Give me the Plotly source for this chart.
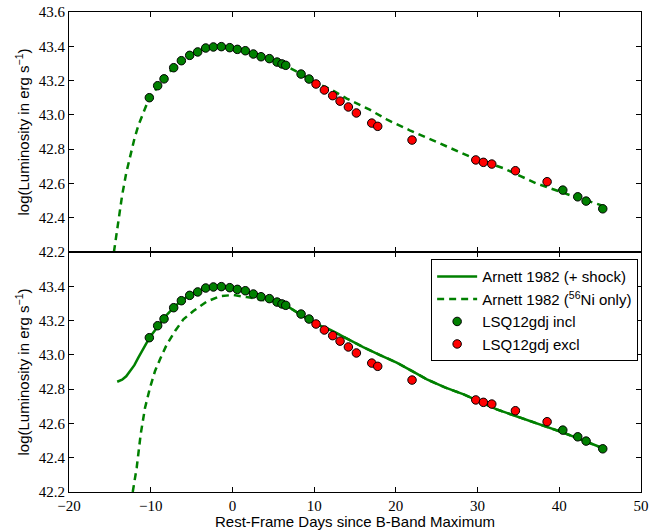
import plotly.graph_objects as go
from plotly.subplots import make_subplots

# LSQ12gdj data points (included in fit: green, excluded: red)
incl_days = [-10.17, -9.15, -8.37, -7.19, -6.25, -5.23, -4.25, -3.27, -2.33, -1.36,
             -0.33, 0.60, 1.58, 2.56, 3.50, 4.52, 5.46, 6.07, 6.52, 8.40, 9.38,
             40.43, 42.26, 43.28, 45.32]
incl_logL = [43.10, 43.17, 43.21, 43.275, 43.316, 43.347, 43.367, 43.39, 43.396, 43.398,
             43.392, 43.382, 43.374, 43.355, 43.339, 43.328, 43.308, 43.297, 43.289, 43.238, 43.209,
             42.561, 42.522, 42.497, 42.452]
excl_days = [10.23, 11.25, 12.27, 13.17, 14.19, 15.17, 17.05, 17.78, 21.98,
             29.78, 30.71, 31.74, 34.63, 38.51]
excl_logL = [43.18, 43.145, 43.112, 43.08, 43.046, 43.011, 42.952, 42.933, 42.853,
             42.737, 42.723, 42.713, 42.674, 42.61]

# Top panel: Arnett 1982 (56Ni only) fit
top_ni_days = [-14.5, -14.0, -13.5, -13.0, -12.5, -12.0, -11.5, -11.0, -10.5, -10.0,
               -9.0, -8.0, -7.0, -6.0, -5.0, -4.0, -3.0, -2.0, -1.0, 0.0, 1.0, 2.0,
               3.0, 4.0, 5.0, 6.0, 7.0, 8.0, 9.0, 10.0, 12.0, 14.0, 16.8, 19.0, 21.7,
               25.4, 29.1, 33.2, 37.2, 41.3, 45.3]
top_ni_logL = [42.20, 42.38, 42.53, 42.66, 42.77, 42.86, 42.94, 43.005, 43.06, 43.105,
               43.175, 43.235, 43.285, 43.325, 43.355, 43.375, 43.39, 43.398, 43.397, 43.39,
               43.38, 43.366, 43.35, 43.335, 43.318, 43.298, 43.275, 43.25, 43.22, 43.19,
               43.15, 43.095, 43.03, 42.97, 42.91, 42.834, 42.756, 42.688, 42.60, 42.532, 42.47]

# Bottom panel: Arnett 1982 (+ shock) fit
bot_shock_days = [-14.1, -13.5, -13.0, -12.5, -12.0, -11.5, -11.0, -10.5, -10.0, -9.0,
                  -8.0, -7.0, -6.0, -5.0, -4.0, -3.0, -2.0, -1.0, 0.0, 1.0, 2.0, 3.0,
                  4.0, 5.0, 6.0, 7.0, 8.0, 9.0, 10.0, 12.0, 14.0, 16.0, 18.0, 20.1, 22.0,
                  23.8, 26.0, 28.3, 32.35, 36.4, 40.5, 45.2]
bot_shock_logL = [42.843, 42.855, 42.875, 42.905, 42.94, 42.985, 43.03, 43.07, 43.11, 43.175,
                  43.235, 43.285, 43.325, 43.355, 43.375, 43.39, 43.397, 43.397, 43.39, 43.38,
                  43.366, 43.35, 43.335, 43.318, 43.298, 43.275, 43.245, 43.215, 43.185, 43.145,
                  43.095, 43.045, 43.0, 42.955, 42.905, 42.857, 42.81, 42.77, 42.682, 42.614,
                  42.546, 42.458]

# Bottom panel: Arnett 1982 (56Ni only) fit
bot_ni_days = [-12.2, -11.72, -11.23, -10.7, -10.09, -9.47, -8.86, -8.04, -7.02, -6.0,
               -4.78, -3.15, -1.52, 0.11, 1.75, 3.0, 4.0, 5.0, 6.0, 7.0, 8.0, 9.0, 10.0,
               12.0, 14.0, 16.0, 18.0, 20.1, 22.0, 23.8, 26.0, 28.3, 32.35, 36.4, 40.5, 45.2]
bot_ni_logL = [42.20, 42.34, 42.536, 42.69, 42.808, 42.906, 42.974, 43.06, 43.139, 43.207,
               43.256, 43.31, 43.343, 43.349, 43.337, 43.325, 43.318, 43.312, 43.298, 43.275,
               43.245, 43.215, 43.185, 43.145, 43.095, 43.045, 43.0, 42.955, 42.905, 42.857,
               42.81, 42.77, 42.682, 42.614, 42.546, 42.458]

x_ticks = [-20, -10, 0, 10, 20, 30, 40, 50]
y_ticks_top = [42.2, 42.4, 42.6, 42.8, 43.0, 43.2, 43.4, 43.6]
y_ticks_bot = [42.2, 42.4, 42.6, 42.8, 43.0, 43.2, 43.4]

GREEN = "#008000"
RED = "#ff0000"
DASH = "7px,5px"
MSIZE = 8.5

fig = make_subplots(rows=2, cols=1, shared_xaxes=True, vertical_spacing=0)

# top panel
fig.add_trace(go.Scatter(x=top_ni_days, y=top_ni_logL, mode="lines",
                         line=dict(color=GREEN, width=2.5, dash=DASH),
                         showlegend=False), row=1, col=1)
fig.add_trace(go.Scatter(x=incl_days, y=incl_logL, mode="markers",
                         marker=dict(color=GREEN, size=MSIZE, line=dict(color="black", width=1)),
                         showlegend=False), row=1, col=1)
fig.add_trace(go.Scatter(x=excl_days, y=excl_logL, mode="markers",
                         marker=dict(color=RED, size=MSIZE, line=dict(color="black", width=1)),
                         showlegend=False), row=1, col=1)

# bottom panel
fig.add_trace(go.Scatter(x=bot_shock_days, y=bot_shock_logL, mode="lines",
                         line=dict(color=GREEN, width=2.5),
                         name="Arnett 1982 (+ shock)"), row=2, col=1)
fig.add_trace(go.Scatter(x=bot_ni_days, y=bot_ni_logL, mode="lines",
                         line=dict(color=GREEN, width=2.5, dash=DASH),
                         name="Arnett 1982 (<sup>56</sup>Ni only)"), row=2, col=1)
fig.add_trace(go.Scatter(x=incl_days, y=incl_logL, mode="markers",
                         marker=dict(color=GREEN, size=MSIZE, line=dict(color="black", width=1)),
                         name="LSQ12gdj incl"), row=2, col=1)
fig.add_trace(go.Scatter(x=excl_days, y=excl_logL, mode="markers",
                         marker=dict(color=RED, size=MSIZE, line=dict(color="black", width=1)),
                         name="LSQ12gdj excl"), row=2, col=1)

tickfont = dict(family="Liberation Serif", size=15, color="black")
common_axis = dict(showline=True, linecolor="black", linewidth=1, mirror="allticks",
                   ticks="inside", ticklen=5, tickwidth=1, tickcolor="black",
                   showgrid=False, zeroline=False, tickfont=tickfont, automargin=False)

fig.update_xaxes(range=[-20, 50], tickvals=x_ticks, **common_axis)
fig.update_xaxes(showticklabels=False, row=1, col=1)
fig.update_xaxes(title=dict(text="Rest-Frame Days since B-Band Maximum",
                            font=dict(family="Liberation Sans", size=15, color="black"),
                            standoff=3), row=2, col=1)

ytitle = dict(text="log(Luminosity in erg s<sup>−1</sup>)",
              font=dict(family="Liberation Sans", size=15, color="black"), standoff=5)
fig.update_yaxes(range=[42.2, 43.6], tickvals=y_ticks_top, ticktext=[f"{v:.1f}" for v in y_ticks_top],
                 title=ytitle, row=1, col=1, **common_axis)
fig.update_yaxes(range=[42.2, 43.6], tickvals=y_ticks_bot, ticktext=[f"{v:.1f}" for v in y_ticks_bot],
                 title=ytitle, row=2, col=1, **common_axis)

fig.update_layout(
    width=662, height=530,
    margin=dict(l=69, r=21, t=12, b=38, autoexpand=False),
    plot_bgcolor="white", paper_bgcolor="white",
    legend=dict(x=0.995, y=0.485, xanchor="right", yanchor="top",
                bordercolor="black", borderwidth=1, bgcolor="white",
                font=dict(family="Liberation Sans", size=15, color="black"),
                itemwidth=40, tracegroupgap=0),
)

fig.write_html("out.html", config={"displayModeBar": False},
               post_script="document.body.style.margin='0';")
